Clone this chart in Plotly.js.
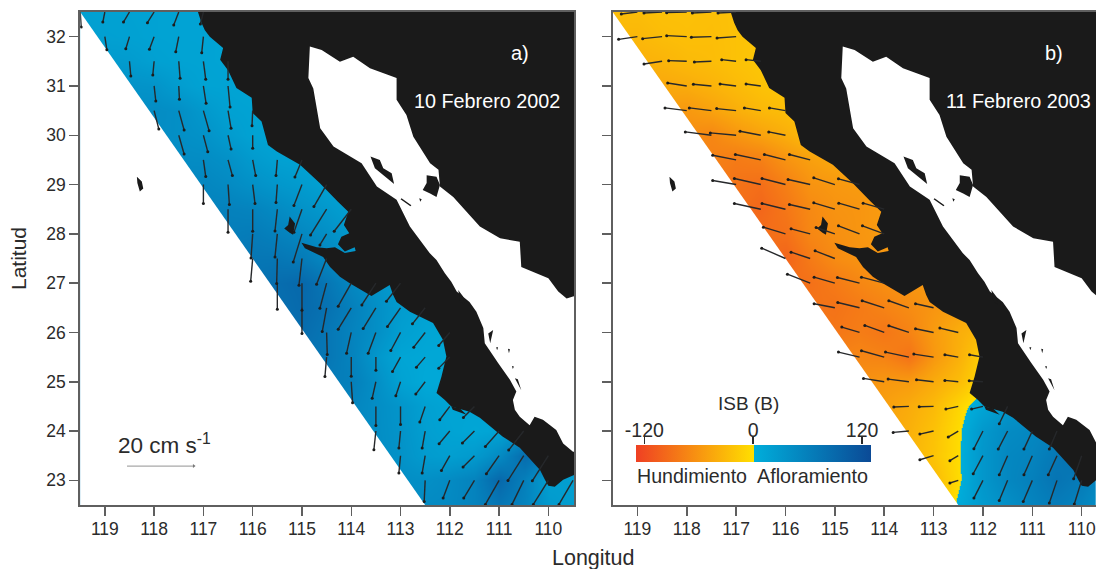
<!DOCTYPE html>
<html><head><meta charset="utf-8">
<script src="https://cdn.plot.ly/plotly-3.0.1.min.js"></script>
<style>html,body{margin:0;padding:0;background:#fff;overflow:hidden}#g{width:1096px;height:569px}</style>
</head><body><div id="g"></div>
<script>
const _ = null;
const gridLon = [119.5,119,118.5,118,117.5,117,116.5,116,115.5,115,114.5,114,113.5,113,112.5,112,111.5,111,110.5,110,109.5];
const gridLat = [32.5,32,31.5,31,30.5,30,29.5,29,28.5,28,27.5,27,26.5,26,25.5,25,24.5,24,23.5,23,22.5];
const isbA = [
[18,16,16,15,14,14,13],
[22,18,17,15,14,14,13],
[_,26,24,18,15,14,13,13],
[_,_,36,34,22,15,14,12],
[_,_,_,44,40,28,17,15,13],
[_,_,_,_,40,36,24,15,12,11],
[_,_,_,_,_,44,38,26,18,15,13],
[_,_,_,_,_,52,46,38,30,24,17,13],
[_,_,_,_,_,_,58,55,46,36,28,18,14],
[_,_,_,_,_,_,_,65,58,50,40,26,16],
[_,_,_,_,_,_,_,72,72,66,50,36,24],
[_,_,_,_,_,_,_,_,84,90,72,50,34,22],
[_,_,_,_,_,_,_,_,_,88,78,60,40,24,16],
[_,_,_,_,_,_,_,_,_,84,72,56,40,20,12,10],
[_,_,_,_,_,_,_,_,_,_,72,56,30,12,9,9],
[_,_,_,_,_,_,_,_,_,_,_,60,40,16,7,9,9],
[_,_,_,_,_,_,_,_,_,_,_,_,42,32,18,12,14,12],
[_,_,_,_,_,_,_,_,_,_,_,_,42,34,20,14,10,14,32,36],
[_,_,_,_,_,_,_,_,_,_,_,_,_,36,24,20,26,46,85,65,30],
[_,_,_,_,_,_,_,_,_,_,_,_,_,42,40,46,56,90,60,20,20],
[_,_,_,_,_,_,_,_,_,_,_,_,_,_,46,48,56,72,55,26,20]
];
const isbB = [
[-28,-28,-25,-25,-26,-24,-20],
[-32,-32,-28,-26,-27,-24,-22],
[_,-38,-35,-30,-28,-24,-20,-18],
[_,_,-45,-42,-36,-30,-24,-20],
[_,_,_,-58,-50,-40,-32,-28,-22],
[_,_,_,_,-72,-60,-50,-40,-28,-22],
[_,_,_,_,_,-82,-78,-62,-52,-45,-40],
[_,_,_,_,_,-88,-92,-78,-62,-58,-55,-50],
[_,_,_,_,_,_,-98,-85,-70,-62,-60,-55,-50],
[_,_,_,_,_,_,_,-90,-72,-65,-60,-55,-50],
[_,_,_,_,_,_,_,-100,-82,-68,-62,-60,-55],
[_,_,_,_,_,_,_,_,-90,-82,-72,-65,-60,-55],
[_,_,_,_,_,_,_,_,_,-88,-82,-75,-68,-60,-52],
[_,_,_,_,_,_,_,_,_,-85,-80,-85,-75,-55,-40,-30],
[_,_,_,_,_,_,_,_,_,_,-72,-75,-88,-58,-38,-12],
[_,_,_,_,_,_,_,_,_,_,_,-58,-55,-42,-28,-6,-3],
[_,_,_,_,_,_,_,_,_,_,_,_,-42,-30,-8,12,30,35],
[_,_,_,_,_,_,_,_,_,_,_,_,-38,-24,-3,28,45,50,58,60],
[_,_,_,_,_,_,_,_,_,_,_,_,_,-22,-2,30,50,55,70,85,45],
[_,_,_,_,_,_,_,_,_,_,_,_,_,-30,-3,30,50,60,75,65,45],
[_,_,_,_,_,_,_,_,_,_,_,_,_,-30,5,25,40,55,65,55,35]
];
const velA = [
[32.5,[119.5,.3,-4.5],[119,-.6,-3],[118.5,-1.8,-3],[118,-2,-3.2],[117.5,-1.5,-3.9],[117,-.9,-3.6]],
[32,[119,.6,-3.9],[118.5,-1.1,-3.6],[118,-1.4,-3.8],[117.5,-.9,-4.5],[117,-.5,-4.8]],
[31.5,[118.5,.4,-4.4],[118,-.4,-4.1],[117.5,.4,-5.1],[117,.7,-5.4],[116.5,0,-5.4]],
[31,[118,.5,-4.5],[117.5,.2,-4],[117,.8,-5.2],[116.5,.6,-6.3]],
[30.5,[118,1.4,-5.5],[117.5,1.6,-5.8],[117,1.7,-6],[116.5,.9,-5.3],[116,-.2,-4.5]],
[30,[117.5,1.6,-5.6],[117,1.3,-4.9],[116.5,.9,-4.1],[116,0,-3.9]],
[29.5,[117,.7,-5],[116.5,1.3,-4.7],[116,.9,-4.7],[115.5,-.4,-4.7],[115,-2.1,-5.1]],
[29,[117,0,-5.7],[116.5,.4,-6],[116,.7,-5.7],[115.5,-.4,-5.4],[115,-2.4,-6.3],[114.5,-3.8,-6.6]],
[28.5,[116.5,0,-6.9],[116,0,-6.6],[115.5,-.7,-6.5],[115,-2.4,-6.9],[114.5,-4.8,-7.7],[114,-5.1,-6.6]],
[28,[116,-.5,-7.2],[115.5,-.7,-6.9],[115,-2.6,-8.4],[114.5,-2,-3.3]],
[27.5,[116,-.6,-6.8],[115.5,-.2,-7.5],[115,-.9,-8],[114.5,-3,-7.7]],
[27,[115.5,0,-7.8],[115,0,-8.1],[114.5,-2,-7.5],[114,-3.9,-6.9],[113.5,-4.2,-6.5],[113,-4.2,-5.4]],
[26.5,[115,0,-7.7],[114.5,-1.3,-7.1],[114,-3.9,-6.4],[113.5,-3.8,-6.2],[113,-3.9,-5.6],[112.5,-3.8,-4.8]],
[26,[114.5,.2,-6.6],[114,-1.4,-6.2],[113.5,-2.3,-6.2],[113,-2.9,-5.4],[112.5,-3.4,-4.4],[112,-3.3,-3.9]],
[25.5,[114.5,-.5,-5.8],[114,0,-5.7],[113.5,0,-3.9],[113,-2.4,-4.3],[112.5,-2.6,-3],[112,-3.3,-3.3]],
[25,[114,.4,-6.3],[113.5,-1.1,-4.9],[113,-1.4,-4.2],[112.5,-2.8,-3.7]],
[24.5,[113.5,0,-5.7],[113,0,-5.4],[112.5,-1.6,-4.7],[112,-3,-4],[111.5,-3.3,-3.3]],
[24,[113.5,-.6,-5.6],[113,-.5,-5.1],[112.5,-.9,-5.1],[112,-3.2,-3.8],[111.5,-3.6,-3.6],[111,-4.1,-4.6],[110.5,-4.5,-5.7]],
[23.5,[113,-.5,-5.2],[112.5,-.9,-5.2],[112,-2.5,-4.4],[111.5,-3.4,-3.4],[111,-3.8,-5.4],[110.5,-4.7,-7.4],[110,-4.8,-7.5]],
[23,[112.5,-.3,-6.3],[112,-2,-5.3],[111.5,-3.2,-5.3],[111,-4.1,-7.2],[110.5,-3.5,-7.2],[110,-4.5,-7.2],[109.5,-4.2,-7.2]]
];
const velB = [
[32.5,[119,-4.8,-.6],[118.5,-5.4,-.3],[118,-6,-.2],[117.5,-5.7,-.3],[117,-5.4,-.3]],
[32,[119,-5.6,-.8],[118.5,-5.8,-.6],[118,-6,.3],[117.5,-6,-.2],[117,-5.7,-.4]],
[31.5,[118.5,-5.4,-.8],[118,-5.4,.2],[117.5,-5.1,-.2],[117,-4.3,.5],[116.5,-4.4,.5]],
[31,[118,-5.7,.9],[117.5,-5.4,.5],[117,-4.8,.6],[116.5,-4.4,.6]],
[30.5,[118,-6.5,.8],[117.5,-6.6,.8],[117,-5.8,.6],[116.5,-4.9,.8],[116,-4.8,.8]],
[30,[117.5,-7.8,1],[117,-7.7,.7],[116.5,-6.2,1.2],[116,-5,1]],
[29.5,[117,-7,1.4],[116.5,-7.6,1.6],[116,-6.3,1.6],[115.5,-6.2,1.6]],
[29,[117,-7,1.2],[116.5,-7.9,1.8],[116,-7,1.8],[115.5,-6.6,1.5],[115,-6.3,2],[114.5,-6.3,1.7]],
[28.5,[116.5,-7.9,1.7],[116,-7,1.7],[115.5,-6.2,1.4],[115,-6.3,1.9],[114.5,-6.2,1.8],[114,-6.3,1.8]],
[28,[116,-6.6,2],[115.5,-5.7,1.5],[115,-5.6,1.9],[114.5,-6.3,2.4],[114,-6.5,2.4]],
[27.5,[116,-7.1,3.1],[115.5,-5.7,1.9],[115,-5.9,2.3]],
[27,[115.5,-6.8,2.7],[115,-6.2,1.8],[114.5,-6.6,1.7],[114,-6.8,1.8]],
[26.5,[115,-6.2,1.2],[114.5,-6.5,1.6],[114,-6.6,2.1],[113.5,-6,2.1],[113,-5.4,1.2]],
[26,[114.5,-5.3,1.6],[114,-5.8,2.1],[113.5,-6,2],[113,-5.4,1.1],[112.5,-5.5,1.3]],
[25.5,[114.5,-6.3,1.5],[114,-6.8,1.9],[113.5,-7,1.5],[113,-5.9,.9],[112.5,-4,.7],[112,-4,.7]],
[25,[114,-6.2,1],[113.5,-6.2,.8],[113,-5.1,.6],[112.5,-4,.4],[112,-4.1,.3]],
[24.5,[113.5,-4.5,-.2],[113,-4.3,-.1],[112.5,-3.7,-.8],[112,-3.4,-.8],[111.5,-2.5,-5.2]],
[24,[113.5,-4.7,-.4],[113,-4.1,-.9],[112.5,-3,-1.8],[112,-2.7,-5.3],[111.5,-2.8,-5.4],[111,-2.5,-5.4],[110.5,-2.3,-5.4]],
[23.5,[113,-4.1,-1.2],[112.5,-2.5,-1.5],[112,-2.9,-5.4],[111.5,-2.5,-5.7],[111,-2.5,-5.7],[110.5,-2.6,-5.7],[110,-2.4,-6.9]],
[23,[112.5,-2.5,-.8],[112,-2.7,-5.3],[111.5,-2.5,-6],[111,-2.7,-6.3],[110.5,-2.3,-6.8],[110,-2.2,-7.1]]
];
const offshoreMask = [[119.5,32.5],[112.5,22.5],[119.7,22.3],[119.7,32.7]];
const landOutline = [[117.11,32.7],[117.11,32.5],[117.04,32.28],[116.97,32.13],[116.87,32],[116.6,31.77],[116.66,31.53],[116.5,31.32],[116.33,30.96],[116.02,30.76],[116,30.45],[115.82,30.28],[115.69,29.8],[115.51,29.67],[115.04,29.4],[114.64,29.03],[114.27,28.65],[114.06,28.45],[114.15,28.18],[114.04,28.01],[114.2,27.94],[114.27,27.79],[114.13,27.64],[113.93,27.73],[113.91,27.65],[114.13,27.61],[114.33,27.73],[114.5,27.71],[114.7,27.73],[115.01,27.82],[114.94,27.71],[114.57,27.53],[114.43,27.33],[114.23,27.13],[114.03,27],[113.59,26.74],[113.22,26.96],[113.15,26.76],[113.08,26.62],[112.81,26.42],[112.34,26.19],[112.14,25.85],[112.07,25.51],[112.17,25.1],[112.27,24.77],[112.1,24.63],[111.97,24.5],[111.6,24.39],[111.39,24.27],[110.93,23.89],[110.58,23.66],[110.17,23.21],[110.07,23.01],[110,22.89],[109.87,22.87],[109.7,23.01],[109.48,23.11],[109.3,23.13],[109.3,32.7]];
const gulfOutline = [[114.84,31.8],[114.6,31.73],[114.23,31.49],[113.96,31.59],[113.62,31.36],[113.08,31.16],[113.08,30.72],[112.88,30.41],[112.74,29.97],[112.4,29.43],[112.23,29.3],[112.2,28.96],[111.93,28.75],[111.73,28.52],[111.39,28.15],[110.98,27.91],[110.58,27.84],[110.55,27.33],[110,27.1],[109.8,26.83],[109.63,26.69],[109.5,26.73],[109.3,26.75],[109.3,23.6],[109.5,23.58],[109.7,23.75],[109.84,24.02],[110.11,24.23],[110.28,24.29],[110.38,24.12],[110.58,24.29],[110.68,24.43],[110.72,24.63],[110.65,24.8],[110.78,25.04],[111.02,25.38],[111.15,25.58],[111.29,25.78],[111.32,26.09],[111.46,26.42],[111.6,26.62],[111.86,26.83],[111.97,27.03],[112.1,27.2],[112.27,27.47],[112.41,27.61],[112.81,28.15],[113.08,28.69],[113.48,28.96],[113.79,29.43],[114.36,29.77],[114.63,30.14],[114.77,30.95],[114.87,31.16]];
const islands = [
[[118.35,29.16],[118.25,29.06],[118.22,28.92],[118.29,28.86],[118.34,29.03]],
[[115.25,28.35],[115.14,28.21],[115.18,27.98],[115.25,28.02],[115.36,28.11],[115.28,28.18]],
[[113.61,29.57],[113.42,29.5],[113.35,29.33],[113.18,29.23],[113.13,29.01],[113.31,29.16],[113.52,29.33]],
[[112.47,29.19],[112.27,29.16],[112.2,28.99],[112.27,28.75],[112.4,28.82],[112.55,28.89],[112.47,29.03]],
[[112.98,28.72],[112.78,28.58],[112.8,28.56],[113,28.7]],
[[111.97,24.5],[111.8,24.46],[111.66,24.33],[111.76,24.37],[111.94,24.43]],
[[111.83,26.86],[111.73,26.73],[111.7,26.56],[111.79,26.63]],
[[111.22,25.98],[111.12,26.05],[111.18,25.78]],
[[110.68,25.07],[110.55,24.83],[110.62,25.05]],
[[110.38,24.56],[110.31,24.39],[110.35,24.52]],
[[109.91,24.36],[109.8,24.12],[109.87,24.3]],
[[112.62,28.72],[112.57,28.7],[112.6,28.65]],
[[111.06,25.7],[111.02,25.7],[111.04,25.64]],
[[110.82,25.67],[110.78,25.66],[110.8,25.58]],
[[110.74,25.32],[110.7,25.31],[110.72,25.26]]
];
const latTicks = [23,24,25,26,27,28,29,30,31,32];
const lonTicks = [119,118,117,116,115,114,113,112,111,110];
const barTicks = [-120,0,120];
const barTickText = ['-120','0','120'];
const refLon = [118.55], refLat = [23.29], refU = [20], refV = [0];

const DEG_PER_CMS = 0.0678;
function pad(m){return m.map(r=>{const c=r.slice();while(c.length<gridLon.length)c.push(null);return c;});}
function poly(pts,color,xa,ya){return {type:'scatter',mode:'lines',x:pts.map(p=>p[0]),y:pts.map(p=>p[1]),fill:'toself',fillcolor:color,line:{width:0,color:color},hoverinfo:'skip',showlegend:false,xaxis:xa,yaxis:ya};}
function multi(list){const o=[];list.forEach((p,i)=>{if(i)o.push([null,null]);p.forEach(q=>o.push(q));o.push(p[0]);});return o;}
function quiver(rows,xa,ya){
  const lx=[],ly=[],hx=[],hy=[];
  rows.forEach(r=>{const lat=r[0];r.slice(1).forEach(a=>{
    const h=a[0]-a[1]*DEG_PER_CMS,v=lat+a[2]*DEG_PER_CMS;
    lx.push(a[0],h,null);ly.push(lat,v,null);hx.push(h);hy.push(v);});});
  return [
   {type:'scatter',mode:'lines',x:lx,y:ly,line:{color:'#26282b',width:1.4},hoverinfo:'skip',showlegend:false,xaxis:xa,yaxis:ya},
   {type:'scatter',mode:'markers',x:hx,y:hy,marker:{color:'#1c1c1c',size:3},hoverinfo:'skip',showlegend:false,xaxis:xa,yaxis:ya}];
}
function panel(z,vel,xa,ya){
  const t=[{type:'heatmap',x:gridLon,y:gridLat,z:pad(z),coloraxis:'coloraxis',zsmooth:'best',connectgaps:true,hoverinfo:'skip',xaxis:xa,yaxis:ya},
    poly(offshoreMask,'#ffffff',xa,ya),poly(landOutline,'#1a1a1a',xa,ya),poly(gulfOutline,'#ffffff',xa,ya),poly(multi(islands),'#1a1a1a',xa,ya)];
  return t.concat(quiver(vel,xa,ya));
}
const traces = panel(isbA,velA,'x','y').concat(panel(isbB,velB,'x2','y2'));
traces.push({type:'scatter',mode:'lines',x:[refLon[0],refLon[0]-refU[0]*DEG_PER_CMS],y:[refLat[0],refLat[0]+refV[0]],line:{color:'#a8a8a8',width:1.2},hoverinfo:'skip',showlegend:false,xaxis:'x',yaxis:'y'});
traces.push({type:'scatter',mode:'markers',x:[refLon[0]-refU[0]*DEG_PER_CMS],y:[refLat[0]+refV[0]],marker:{color:'#777',size:3.5,symbol:'triangle-right'},hoverinfo:'skip',showlegend:false,xaxis:'x',yaxis:'y'});
traces.push({type:'scatter',mode:'markers',x:barTicks,y:[0,0,0],marker:{size:1,opacity:0},hoverinfo:'skip',showlegend:false,xaxis:'x3',yaxis:'y3'});

const W=1096,H=569,FONT='"Liberation Sans",Arial,sans-serif',INK='#2b2b2b',AX='#5f5f5f';
const yDom=[(H-505)/H,(H-12)/H];
const xAxisBase={tickmode:'array',tickvals:lonTicks,ticktext:lonTicks.map(String),ticks:'outside',ticklen:9,tickwidth:1.5,tickcolor:AX,showline:true,linecolor:AX,linewidth:2,mirror:true,showgrid:false,zeroline:false,ticklabelstandoff:-2,tickfont:{family:FONT,size:17.5,color:INK}};
const yAxisBase={range:[22.5,32.5],tickmode:'array',tickvals:latTicks,ticktext:latTicks.map(String),ticks:'outside',ticklen:9,tickwidth:1.5,tickcolor:AX,showline:true,linecolor:AX,linewidth:2,showgrid:false,zeroline:false,tickfont:{family:FONT,size:17.5,color:INK}};
const ann=(t,x,y,xr,yr,size,color,extra)=>Object.assign({text:t,x:x,y:y,xref:xr,yref:yr,showarrow:false,xanchor:'center',yanchor:'middle',font:{family:FONT,size:size,color:color}},extra||{});
const layout={width:W,height:H,margin:{l:0,r:0,t:0,b:0,autoexpand:false},paper_bgcolor:'#fff',plot_bgcolor:'#fff',showlegend:false,
 xaxis:Object.assign({},xAxisBase,{domain:[80.2/W,574/W],range:[119.5,109.48],anchor:'y'}),
 yaxis:Object.assign({},yAxisBase,{domain:yDom,anchor:'x',mirror:true,title:{text:'Latitud',font:{family:FONT,size:21,color:INK},standoff:14}}),
 xaxis2:Object.assign({},xAxisBase,{domain:[612.7/W,1],range:[119.5,109.71],anchor:'y2'}),
 yaxis2:Object.assign({},yAxisBase,{domain:yDom,anchor:'x2',showticklabels:false}),
 xaxis3:{domain:[635.7/W,870.7/W],range:[-129.5,129.5],anchor:'y3',side:'top',tickmode:'array',tickvals:barTicks,ticktext:barTickText,ticks:'outside',ticklen:7,tickwidth:1.6,tickcolor:INK,showline:false,showgrid:false,zeroline:false,ticklabelstandoff:-8,tickfont:{family:FONT,size:19.5,color:INK}},
 yaxis3:{domain:[(H-446)/H,(H-445)/H],range:[-1,1],anchor:'x3',visible:false},
 coloraxis:{cmin:-129.5,cmax:129.5,
  colorscale:[[0,'#ef4023'],[0.5,'#ffdf00'],[0.5,'#00aedb'],[1,'#0b4a96']],
  colorbar:{orientation:'h',x:753.2/W,xanchor:'center',y:(H-461.7)/H,yanchor:'bottom',len:235,lenmode:'pixels',thickness:16.7,thicknessmode:'pixels',xpad:0,ypad:0,outlinewidth:0,ticks:'',showticklabels:false}},
 annotations:[
  ann('a)',110.58,31.67,'x','y',20,'#fff'),
  ann('10 Febrero 2002',111.25,30.69,'x','y',19.8,'#fff'),
  ann('b)',110.56,31.67,'x2','y2',20,'#fff'),
  ann('11 Febrero 2003',111.29,30.69,'x2','y2',19.8,'#fff'),
  ann('20 cm s<sup>-1</sup>',164/W,1-444/H,'paper','paper',22.5,INK),
  ann('ISB (B)',748/W,1-403/H,'paper','paper',19,INK),
  ann('Hundimiento',692/W,1-475.5/H,'paper','paper',19.6,INK),
  ann('Afloramiento',812/W,1-475.5/H,'paper','paper',19.8,INK),
  ann('Longitud',593/W,1-558/H,'paper','paper',21.5,INK)
 ]};
Plotly.newPlot('g',traces,layout,{displayModeBar:false,staticPlot:true});
</script></body></html>
